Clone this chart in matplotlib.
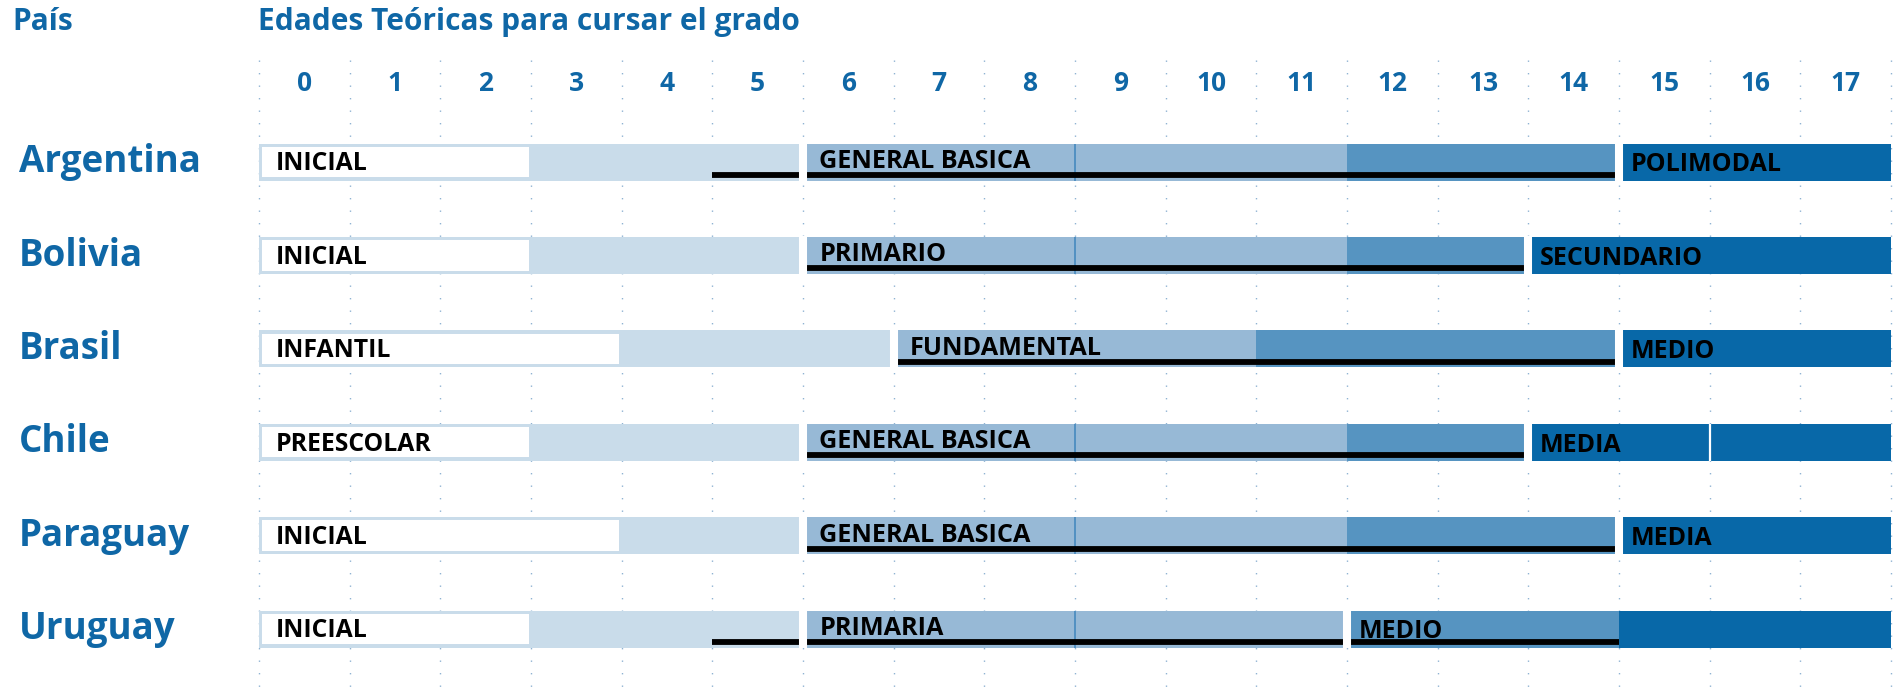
import matplotlib
matplotlib.use("Agg")
import matplotlib.pyplot as plt
from matplotlib.transforms import blended_transform_factory

# ---------------- data ----------------
countries = ["Argentina", "Bolivia", "Brasil", "Chile", "Paraguay", "Uruguay"]
ages = list(range(18))

initial_labels = ["INICIAL", "INICIAL", "INFANTIL", "PREESCOLAR", "INICIAL", "INICIAL"]
initial_white_end = [3, 3, 4, 3, 4, 3]
initial_end = [6, 6, 7, 6, 6, 6]

primary_labels = ["GENERAL BASICA", "PRIMARIO", "FUNDAMENTAL", "GENERAL BASICA",
                  "GENERAL BASICA", "PRIMARIA"]
primary_split = [12, 12, 11, 12, 12, 12]
primary_end = [15, 14, 15, 14, 15, 12]
cycle_divider = [9, 9, None, 9, 9, 9]

secondary_labels = ["POLIMODAL", "SECUNDARIO", "MEDIO", "MEDIA", "MEDIA", "MEDIO"]
secondary_start = [15, 14, 15, 14, 15, 12]
secondary_dark_start = [15, 14, 15, 14, 15, 15]
secondary_end = [18, 18, 18, 18, 18, 18]
secondary_divider = [None, None, None, 16, None, None]

mandatory_start = [5, 6, 7, 6, 6, 5]
mandatory_end = [15, 14, 15, 14, 15, 15]

# ---------------- style ----------------
LIGHT = "#c9dcea"
MIDLIGHT = "#97b9d6"
MID = "#5694c1"
DARK = "#0868a8"
BLUE_TXT = "#0f67a6"
GRID = "#8fb3d3"
FONT = ["Open Sans", "DejaVu Sans"]

W, H = 1897, 694
fig = plt.figure(figsize=(W / 100, H / 100), dpi=100)
ax = fig.add_axes([0, 0, 1, 1])

px_year = (1891 - 259) / 18.0
x0_px = 259
row0_px = 162
row_px = 93.4
ax.set_xlim(-x0_px / px_year, (W - x0_px) / px_year)
ax.set_ylim((H - row0_px) / row_px, -row0_px / row_px)
ax.axis("off")

BH = 37 / row_px  # bar height in row units
GAP = 5.8         # white gap width (pt)

# dotted grid
grid_top = (60 - row0_px) / row_px
for a in range(0, 19):
    ax.plot([a, a], [grid_top, (H - row0_px) / row_px], color=GRID, lw=1.0,
            linestyle=(0, (1, 8)), zorder=0)

for i, c in enumerate(countries):
    # pre-primary
    ax.barh(i, initial_end[i], left=0, height=BH, color=LIGHT, zorder=1, linewidth=0)
    ax.barh(i, initial_white_end[i] - 0.035, left=0.02, height=BH - 0.05, color="white",
            edgecolor=LIGHT, linewidth=1.4, zorder=2)
    # primary
    ax.barh(i, primary_split[i] - initial_end[i], left=initial_end[i], height=BH,
            color=MIDLIGHT, zorder=1, linewidth=0)
    if primary_end[i] > primary_split[i]:
        ax.barh(i, primary_end[i] - primary_split[i], left=primary_split[i], height=BH,
                color=MID, zorder=1, linewidth=0)
    # secondary
    if secondary_dark_start[i] > secondary_start[i]:
        ax.barh(i, secondary_dark_start[i] - secondary_start[i], left=secondary_start[i],
                height=BH, color=MID, zorder=1, linewidth=0)
    ax.barh(i, secondary_end[i] - secondary_dark_start[i], left=secondary_dark_start[i],
            height=BH, color=DARK, zorder=1, linewidth=0)
    # cycle divider
    if cycle_divider[i] is not None:
        ax.plot([cycle_divider[i]] * 2, [i - BH / 2, i + BH / 2], color="#3f86bd",
                lw=1.1, zorder=2, solid_capstyle="butt")
    # mandatory underline
    ax.plot([mandatory_start[i], mandatory_end[i]], [i + 0.14, i + 0.14], color="black",
            lw=4.2, zorder=3, solid_capstyle="butt")
    # white gaps between levels
    for g in (initial_end[i], secondary_start[i]):
        ax.plot([g, g], [i - BH / 2 - 0.01, i + BH / 2 + 0.01], color="white", lw=GAP,
                zorder=4, solid_capstyle="butt")
    if secondary_divider[i] is not None:
        ax.plot([secondary_divider[i]] * 2, [i - BH / 2, i + BH / 2], color="white",
                lw=1.6, zorder=4, solid_capstyle="butt")

    # labels
    ax.text(0.18, i + 0.09, initial_labels[i], fontsize=17.8, fontweight="bold",
            family=FONT, color="black", zorder=5, va="baseline")
    ax.text(initial_end[i] + 0.18, i + 0.065, primary_labels[i], fontsize=18.2,
            fontweight="bold", family=FONT, color="black", zorder=5, va="baseline")
    ax.text(secondary_start[i] + 0.13, i + 0.10, secondary_labels[i], fontsize=18,
            fontweight="bold", family=FONT, color="black", zorder=5, va="baseline")

# country names
tr = blended_transform_factory(fig.transFigure, ax.transData)
for i, c in enumerate(countries):
    ax.text(19 / W, i + 0.11, c, transform=tr, fontsize=26.5, fontweight="bold",
            family=FONT, color=BLUE_TXT, va="baseline", ha="left")

# age tick labels
tick_y = (83 - row0_px) / row_px
for a in ages:
    ax.text(a + 0.5, tick_y, str(a), fontsize=19, fontweight="bold", family=FONT,
            color=BLUE_TXT, ha="center", va="center")

# headers
fig.text(12 / W, 1 - 22 / H, "País", fontsize=21.5, fontweight="bold", family=FONT,
         color=BLUE_TXT, ha="left", va="center")
fig.text(258 / W, 1 - 22 / H, "Edades Teóricas para cursar el grado", fontsize=21.5,
         fontweight="bold", family=FONT, color=BLUE_TXT, ha="left", va="center")

fig.savefig("out.png", dpi=100)
